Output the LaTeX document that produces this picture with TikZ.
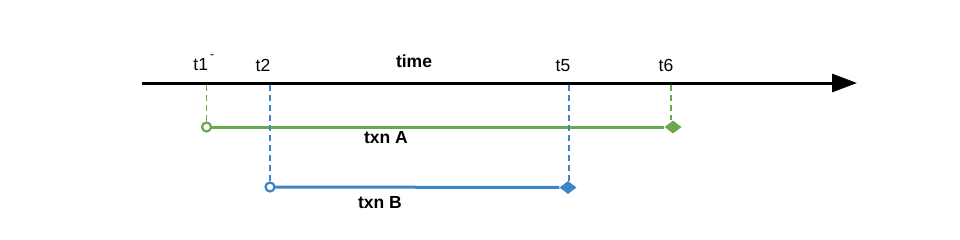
\documentclass[tikz,border=0pt]{standalone}
\usepackage{fontspec}
\setmainfont{Liberation Sans}
\usetikzlibrary{arrows.meta,shapes.geometric}
\definecolor{txngreen}{HTML}{6AA84F}
\definecolor{txnblue}{HTML}{3D85C6}
\tikzset{
    lbl/.style={anchor=base, inner sep=0pt, font=\fontsize{17.5}{20}\selectfont},
    guide/.style={line width=1.5pt, dash pattern=on 6pt off 4pt},
    txn/.style={line width=3pt},
    opencirc/.style={circle, draw=#1, fill=white, line width=2.2pt, minimum size=9pt, inner sep=0pt},
    endmark/.style={diamond, fill=#1, minimum width=17pt, minimum height=13pt, inner sep=0pt},
}
\begin{document}
\begin{tikzpicture}[x=1pt, y=-1pt]
    \useasboundingbox (0,0) rectangle (960,239);
    % time axis
    \coordinate (tstart) at (142,83);
    \coordinate (tend) at (857,83);
    \draw[line width=3pt, -{Triangle[length=25pt,width=18pt]}] (tstart) -- (tend);
    \node[lbl] (time) at (414,67) {\bfseries time};
    \node[lbl] (lt1) at (204,70) {t1\hspace{2pt}\raisebox{5pt}{\textsuperscript{-}}};
    \node[lbl] (lt2) at (263,71.5) {t2};
    \node[lbl] (lt5) at (563,71) {t5};
    \node[lbl] (lt6) at (666,71) {t6};
    % txn A
    \coordinate (axA1) at (206.5,85);
    \coordinate (axA2) at (671,85);
    \node[endmark=txngreen] (endA) at (673,127) {};
    \draw[guide, txngreen] (axA1) -- (206.5,127);
    \draw[guide, txngreen] (axA2) -- (axA2 |- endA.north);
    \draw[txn, txngreen] (206.5,127) -- (endA);
    \node[opencirc=txngreen] (startA) at (206.5,127) {};
    \node[lbl] (nameA) at (386,143) {\bfseries txn A};
    % txn B
    \coordinate (axB1) at (270,85);
    \coordinate (axB2) at (569,85);
    \node[endmark=txnblue] (endB) at (568,187.5) {};
    \draw[guide, txnblue] (axB1) -- (270,187);
    \draw[guide, txnblue] (axB2) -- (axB2 |- endB.north);
    \draw[txn, txnblue] (270,187) -- (endB);
    \node[opencirc=txnblue] (startB) at (270,187) {};
    \node[lbl] (nameB) at (380,208) {\bfseries txn B};
\end{tikzpicture}
\end{document}
